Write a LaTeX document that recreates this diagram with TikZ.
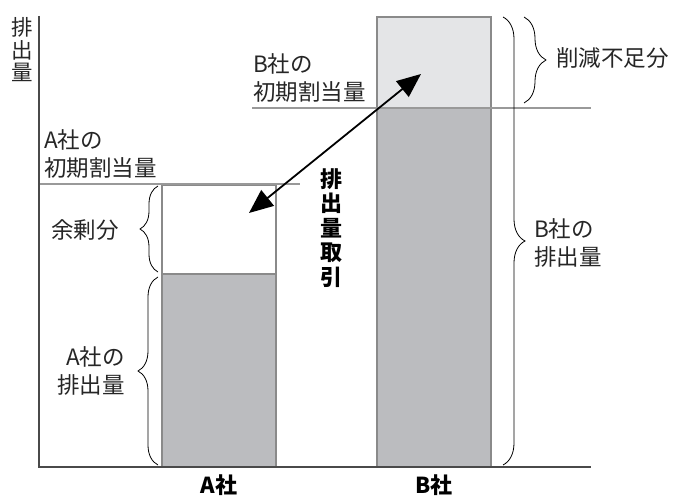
\documentclass[tikz,border=0pt]{standalone}
\usepackage{fontspec}
\newfontfamily\jp{Noto Sans CJK JP}
\usetikzlibrary{arrows.meta,decorations.pathreplacing}
\definecolor{bardark}{HTML}{BBBCBF}
\definecolor{barlight}{HTML}{E4E5E7}
\definecolor{axisgray}{HTML}{4A4A4A}
\definecolor{linegray}{HTML}{999999}
\definecolor{edgegray}{HTML}{8A8A8A}
\tikzset{
  lbl/.style={inner sep=0pt, font=\jp\fontsize{22.5}{27.5}\selectfont, text=black!85},
  vlbl/.style={inner sep=0pt, font=\jp\fontsize{21.5}{22.5}\selectfont, align=center, text=black!85},
  boldlbl/.style={inner sep=0pt, font=\jp\bfseries\fontsize{22}{24.5}\selectfont, align=center},
  axisline/.style={draw=axisgray, line width=1.4pt},
  alloc/.style={draw=linegray, line width=2.6pt},
  barbox/.style={draw=edgegray, line width=1.4pt},
  brc/.style={draw=black, line width=0.8pt, decorate},
  trade/.style={line width=1.8pt, {Triangle[length=24pt,width=20pt]}-{Triangle[length=24pt,width=20pt]}}
}
\begin{document}
\begin{tikzpicture}[x=1pt,y=-1pt]
\useasboundingbox (0,0) rectangle (683,497);
% bars
\path[barbox, fill=white] (162,185) rectangle (276,274);
\path[barbox, fill=bardark] (162,274) rectangle (276,467);
\path[barbox, fill=barlight] (377,17) rectangle (491,108);
\path[barbox, fill=bardark] (377,108) rectangle (491,467);
% allocation lines
\draw[alloc] (39,184) -- (300,184);
\draw[alloc] (252,108) -- (591,108);
% axes
\draw[axisline] (39,16) -- (39,467) -- (591,467);
% braces
\draw[brc, decoration={brace, amplitude=18pt}] (158,272) -- (158,186);
\draw[brc, decoration={brace, amplitude=20pt}] (158,465) -- (158,277);
\draw[brc, decoration={brace, amplitude=22pt}] (503,17) -- (503,465);
\draw[brc, decoration={brace, amplitude=22pt}] (524,17) -- (524,103);
% trade arrow
\coordinate (tA) at (249,213);
\coordinate (tB) at (421,74);
\draw[trade] (tA) -- (tB);
% labels
\node[vlbl] (yax) at (22,50) {排\\出\\量};
\node[lbl, anchor=west, align=left] (aalloc) at (44,154) {A社の\\初期割当量};
\node[lbl, anchor=west, align=left] (balloc) at (253,78) {B社の\\初期割当量};
\node[lbl, anchor=west] (short) at (556,58) {削減不足分};
\node[lbl, anchor=west, align=left] (bemit) at (534,243) {B社の\\排出量};
\node[lbl, anchor=east] (surplus) at (119,230) {余剰分};
\node[lbl, anchor=east, align=right] (aemit) at (125,371) {A社の\\排出量};
\node[boldlbl] (tradel) at (331,228) {排\\出\\量\\取\\引};
\node[boldlbl] (alab) at (219,485) {A社};
\node[boldlbl] (blab) at (434,485) {B社};
\end{tikzpicture}
\end{document}
